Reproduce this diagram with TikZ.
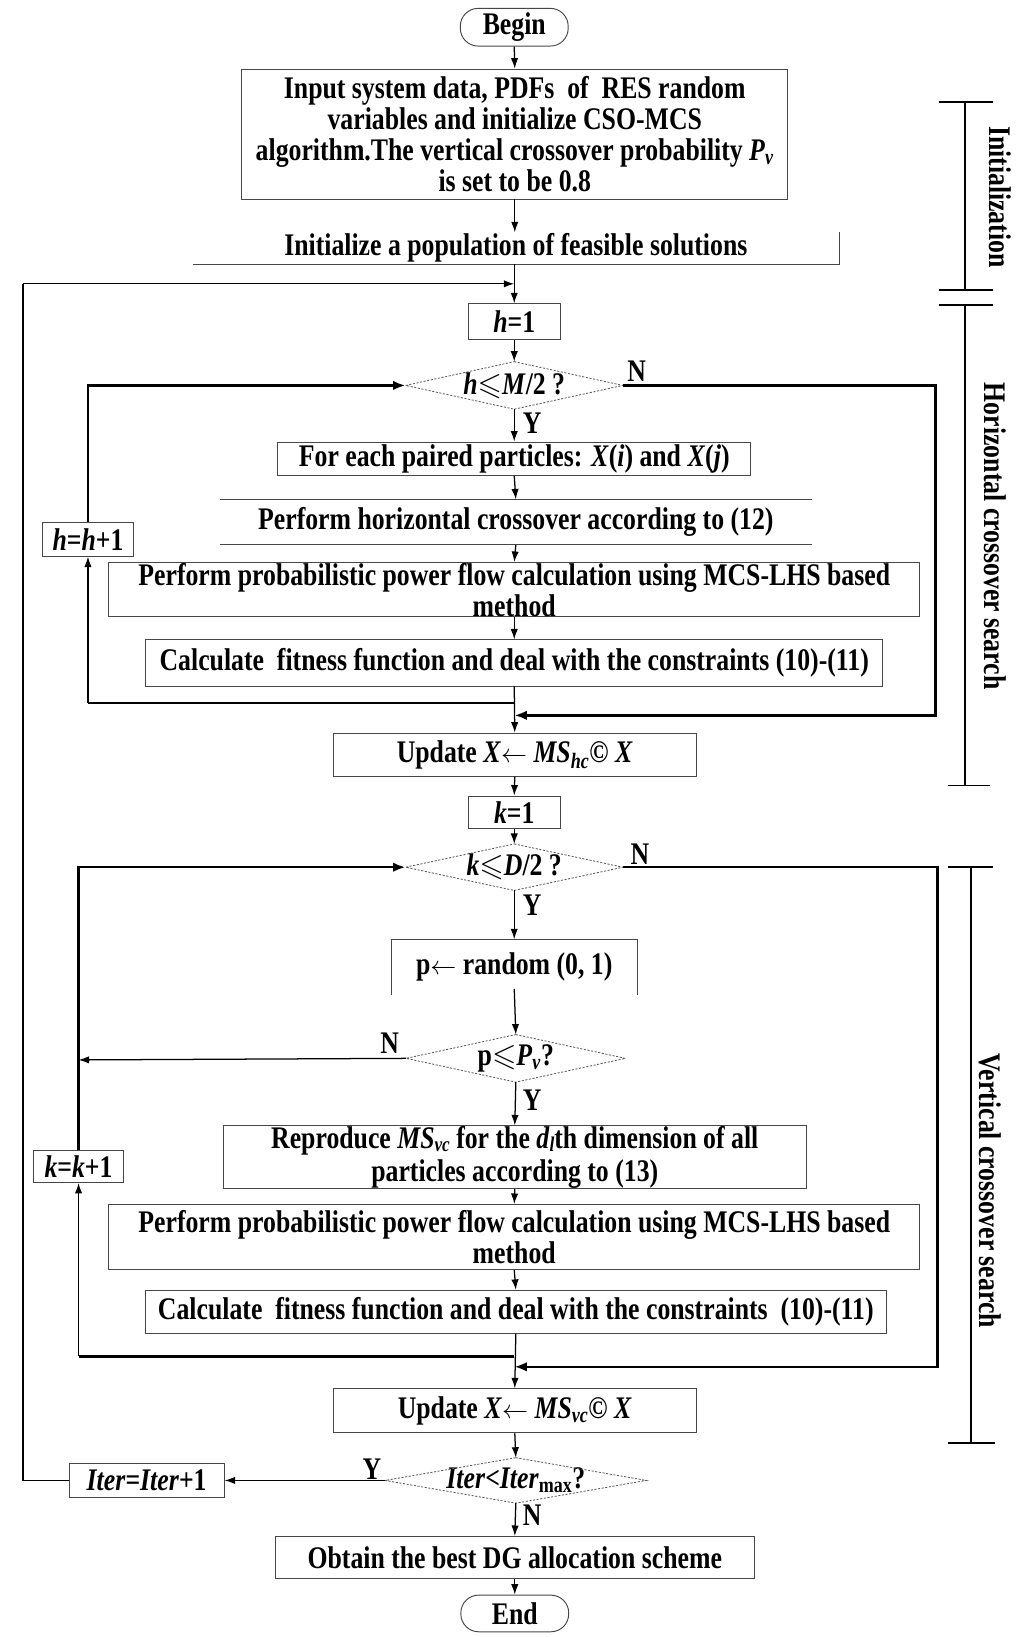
\documentclass[tikz,border=0pt]{standalone}
\usepackage{fontspec}
\usepackage{amssymb}
\setmainfont[FakeStretch=0.82]{Liberation Serif}
\usetikzlibrary{arrows.meta}
\newcommand\mf{\fontsize{30}{29.5}\selectfont\bfseries}
\newcommand\larr{\ensuremath{\leftarrow}}
\newcommand\lowsub[1]{\raisebox{-2.5pt}{\fontsize{20}{20}\selectfont #1}}
\definecolor{boxgray}{RGB}{70,70,70}
\definecolor{diagray}{RGB}{90,90,90}
\tikzset{
  box/.style={draw=boxgray, line width=0.9pt, inner sep=0pt, align=center, font=\mf},
  plain/.style={inner sep=0pt, align=center, font=\mf},
  term/.style={draw=boxgray, line width=0.9pt, rounded corners=17pt, inner sep=0pt, font=\mf},
  diaedge/.style={draw=diagray, line width=0.8pt, dash pattern=on 2pt off 1.5pt},
  arr/.style={line width=1.2pt, -{Latex[length=10pt,width=7pt]}},
  ln/.style={line width=1.2pt},
  thk/.style={line width=2.4pt},
  thkarr/.style={line width=2.4pt, -{Latex[length=12pt,width=9pt]}},
  lab/.style={inner sep=0pt, font=\mf},
  brk/.style={line width=1.8pt},
  side/.style={inner sep=0pt, font=\mf, rotate=-90}
}
\begin{document}
\begin{tikzpicture}[x=1pt,y=-1pt]
\useasboundingbox (0,0) rectangle (978,1563);
% nodes
\node[term, minimum width=103pt, minimum height=36pt] (begin) at (491,26) {Begin};
\node[box, minimum width=521pt, minimum height=124pt] (inp) at (491.5,128)
 {Input system data, PDFs\ \ of\ \ RES random\\variables and initialize CSO-MCS\\algorithm.The vertical crossover probability \textit{P}\textsubscript{\textit{v}}\\is set to be 0.8};
\node[plain, minimum width=617pt, minimum height=30pt] (init) at (492.5,237) {Initialize a population of feasible solutions};
\node[box, minimum width=88pt, minimum height=34pt] (h1) at (491,307) {\textit{h}=1};
\node[plain, minimum width=207pt, minimum height=45pt] (dh) at (491,368) {\textit{h}$\leqslant$\textit{M}/2 ?};
\node[box, minimum width=452pt, minimum height=32pt] (pair) at (491,438) {For each paired particles: \textit{X}(\textit{i}) and \textit{X}(\textit{j})};
\node[plain, minimum width=565pt, minimum height=43pt] (hc) at (492.5,498.5) {Perform horizontal crossover according to (12)};
\node[box, minimum width=774pt, minimum height=52pt] (ppf1) at (491,563) {Perform probabilistic power flow calculation using MCS-LHS based\\method};
\node[box, minimum width=704pt, minimum height=44pt] (fit1) at (491,633) {Calculate\ \ fitness function and deal with the constraints (10)-(11)};
\node[box, minimum width=87pt, minimum height=32pt] (hh) at (84,515) {\textit{h}=\textit{h}+1};
\node[box, minimum width=347pt, minimum height=41pt] (upd1) at (491.5,720.5) {Update \textit{X}\larr\ \textit{MS}\textsubscript{\textit{hc}}© \textit{X}};
\node[box, minimum width=88pt, minimum height=31pt] (k1) at (491,775.5) {\textit{k}=1};
\node[plain, minimum width=207pt, minimum height=44pt] (dk) at (491,828) {\textit{k}$\leqslant$\textit{D}/2 ?};
\node[plain, minimum width=234pt, minimum height=53pt] (rnd) at (491,923.5) {p\larr\ random (0, 1)};
\node[plain, minimum width=209pt, minimum height=45pt] (dp) at (492.5,1010.5) {p$\leqslant$\textit{P}\textsubscript{\textit{v}}?};
\node[box, minimum width=557pt, minimum height=60pt] (rep) at (491.5,1105) {Reproduce \textit{MS}\lowsub{\textit{vc}} for the \textit{d}\lowsub{\textit{l}}th dimension of all\\[2pt]particles according to (13)};
\node[box, minimum width=774pt, minimum height=62pt] (ppf2) at (491,1181) {Perform probabilistic power flow calculation using MCS-LHS based\\method};
\node[box, minimum width=707pt, minimum height=41pt] (fit2) at (492.5,1252.5) {Calculate\ \ fitness function and deal with the constraints\ \ (10)-(11)};
\node[box, minimum width=86pt, minimum height=31pt] (kk) at (75,1113.5) {\textit{k}=\textit{k}+1};
\node[box, minimum width=347pt, minimum height=42pt] (upd2) at (491.5,1347) {Update \textit{X}\larr\ \textit{MS}\textsubscript{\textit{vc}}© \textit{X}};
\node[plain, minimum width=249pt, minimum height=43pt] (di) at (492.5,1413.5) {\textit{Iter}<\textit{Iter}\textsubscript{max}?};
\node[box, minimum width=148pt, minimum height=33pt] (it) at (140,1413.5) {\textit{Iter}=\textit{Iter}+1};
\node[box, minimum width=457pt, minimum height=40pt] (obt) at (491.5,1487) {Obtain the best DG allocation scheme};
\node[term, minimum width=103pt, minimum height=35pt] (fin) at (491.5,1540.5) {End};
% diamonds
\foreach \d in {dh,dk,dp,di}{
  \draw[diaedge] (\d.north) -- (\d.east) -- (\d.south) -- (\d.west) -- cycle;
}
% partial borders
\draw[draw=boxgray, line width=0.9pt] (init.north east) -- (init.south east) -- (init.south west);
\draw[draw=boxgray, line width=0.9pt] (hc.north west) -- (hc.north east) (hc.south west) -- (hc.south east);
\draw[draw=boxgray, line width=0.9pt] (rnd.south west) -- (rnd.north west) -- (rnd.north east) -- (rnd.south east);
% coordinates
\coordinate (m1) at (491,271);
\coordinate (m2) at (491,683);
\coordinate (m3) at (491,671);
\coordinate (m4) at (491,1305);
\coordinate (m5) at (491,1295);
\coordinate (pN) at (75,1012);
% connectors
\draw[arr] (begin.south) -- (inp.north);
\draw[arr] (inp.south) -- (inp.south |- init.north);
\draw[arr] (h1.north |- init.south) -- (h1.north);
\draw[ln] (it.west) -| (22,271);
\draw[ln, -{Latex[length=10pt,width=7pt]}] (22,271) -- (m1);
\draw[arr] (h1.south) -- (dh.north);
\draw[arr] (dh.south) -- (pair.north);
\draw[thkarr] (dh.east) -| (893,683) -- (m2);
\draw[arr] (pair.south) -- (hc.north);
\draw[arr] (hc.south) -- (ppf1.north);
\draw[arr] (ppf1.south) -- (fit1.north);
\draw[arr] (fit1.south) -- (upd1.north);
\draw[thk] (m3) -- (84,671);
\draw[arr] (84,671) -- (hh.south);
\draw[thkarr] (hh.north) |- (dh.west);
\draw[arr] (upd1.south) -- (k1.north);
\draw[arr] (k1.south) -- (dk.north);
\draw[thkarr] (dk.east) -| (895,1305) -- (m4);
\draw[arr] (dk.south) -- (rnd.north);
\draw[arr] ([yshift=6pt]rnd.south) -- (dp.north);
\draw[arr] (dp.west) -- (pN);
\draw[arr] (dp.south) -- (rep.north);
\draw[arr] (rep.south) -- (ppf2.north);
\draw[arr] (ppf2.south) -- (fit2.north);
\draw[arr] (fit2.south) -- (upd2.north);
\draw[thk] (m5) -- (75,1295);
\draw[arr] (75,1295) -- (kk.south);
\draw[thkarr] (kk.north) |- (dk.west);
\draw[arr] (upd2.south) -- (di.north);
\draw[arr] (di.west) -- (it.east);
\draw[arr] (di.south) -- (obt.north);
\draw[arr] (obt.south) -- (fin.north);
% labels
\node[lab] (yh) at (508,404) {Y};
\node[lab] (nh) at (608,354) {N};
\node[lab] (yk) at (508,864) {Y};
\node[lab] (nk) at (611,816) {N};
\node[lab] (np) at (372,996) {N};
\node[lab] (yp) at (508,1050) {Y};
\node[lab] (yi) at (355,1403) {Y};
\node[lab] (ni) at (508,1447) {N};
% right brackets
\draw[brk] (921,97) -- (921,277);
\draw[brk] (897,97) -- (948,97);
\draw[brk] (897,277) -- (948,277);
\draw[brk] (897,291) -- (948,291);
\draw[brk] (921,291) -- (921,750);
\draw[brk] (905,750) -- (945,750);
\draw[brk] (905,828) -- (948,828);
\draw[brk] (927,828) -- (927,1378);
\draw[brk] (905,1378) -- (950,1378);
\node[side] (sini) at (955,188) {Initialization};
\node[side] (shor) at (950,512) {Horizontal crossover search};
\node[side] (sver) at (945,1137) {Vertical crossover search};
\end{tikzpicture}
\end{document}
